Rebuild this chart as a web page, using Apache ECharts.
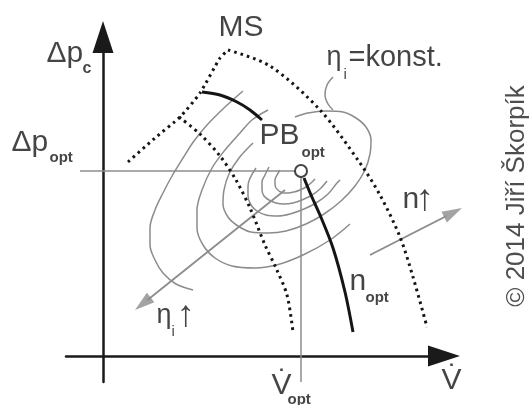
<!DOCTYPE html>
<html>
<head>
<meta charset="utf-8">
<script src="https://cdn.jsdelivr.net/npm/echarts@6/dist/echarts.min.js"></script>
<style>
  html, body { margin: 0; padding: 0; background: #ffffff; }
  #chart { width: 532px; height: 405px; }
</style>
</head>
<body>
<div id="chart"></div>
<script>
// Compressor map: pressure rise Δp_c against volume flow V̇.
// Diagram units: 1 unit = 1 px, origin at the crossing of the two axes.

// surge line (MS) and two constant-speed lines (dotted)
const surgeLine = [[25,194],[52,218],[77,239],[97,263],[117,298],[125,306]];
const speedLineHigh = [[125,306],[167,290],[217,246],[257,193],[277,161],[297,119],[310,79],[324,29]];
const speedLineLow = [[76,239],[97,222],[117,200],[133,176],[147,148],[162,111],[173,88],[184,61],[190,24]];

// optimal speed line n_opt and the pressure arc ending at PB_opt
const optSpeedCurve = [[201,178],[208,161],[217,141],[230,108],[242,64],[250,24]];
const pressureArc = [[99,264],[117,261],[134,254],[147,246],[159,236]];

// iso-efficiency contours η_i = konst., outermost first
const effContour1 = [[140,265],[122,249],[104,231],[91,215],[80,198],[69,180],[60,163],[52,146],[47,128],[47,111],[52,96],[60,83],[73,72],[90,66]];
const effContour2 = [[165,246],[149,236],[137,223],[122,206],[109,188],[99,166],[94,146],[94,128],[100,111],[112,98],[129,90],[152,88],[177,92],[202,102],[227,116],[247,132]];
const effContour3 = [[192,239],[205,243],[223,245],[240,244],[253,238],[263,229],[268,216],[267,202],[262,186],[252,170],[238,155],[221,142],[203,132],[183,125],[165,123],[148,124],[135,130],[125,139],[120,152],[121,166],[126,182],[136,198],[150,213]];
const effContour4 = [[153,188],[145,170],[145,160],[148,151],[154,145],[163,141],[175,140],[187,142],[201,147],[213,153],[225,162],[234,173],[237,176]];
const effContour5 = [[166,189],[162,181],[159,174],[159,166],[161,160],[166,156],[173,153],[181,152],[190,153],[199,156],[209,161],[217,167],[224,175]];
const effContour6 = [[177,186],[174,181],[172,176],[172,172],[173,168],[176,165],[180,163],[185,163],[191,164],[197,166],[203,169],[208,173],[212,177]];
const konstLeader = [[230,279],[224,271],[222,261],[225,252],[230,246]];

// best-efficiency point PB_opt and its reference lines
const optPoint = [198,185];
const optPressureLine = [[-23,185],[192,185]];
const optFlowLine = [[198,179],[198,-26]];

// direction arrows: η_i increasing, n increasing
const etaArrow = [[182,166],[32,46]];
const speedArrow = [[267,101],[359,148]];

// text annotations: [text, x, y, style]
const annotations = [
  ['MS', 116, 327.5, 'big'],
  ['Δp', -56, 302, 'big'], ['c', -20, 287, 'subC'],
  ['Δp', -91, 213, 'big'], ['opt', -53, 198, 'sub'],
  ['PB', 157, 219.5, 'big'], ['opt', 199, 203, 'sub'],
  ['η', 224, 297.5, 'mid'], ['i', 241, 281, 'subI'], ['=konst.', 246, 297.5, 'konst'],
  ['n', 300, 156, 'big'], ['↑', 313, 156, 'arrow'],
  ['η', 54, 40, 'mid'], ['i', 69, 24, 'subI'], ['↑', 74, 40, 'arrow'],
  ['n', 247, 74, 'big'], ['opt', 263, 58, 'sub'],
  ['V\u0307', 339, -25, 'big'],
  ['V\u0307', 169, -30, 'big'], ['opt', 185, -44, 'sub']
];
const copyright = ['© 2014 Jiří Škorpík', 414, 160];

const FONT = "'Liberation Sans', Arial, sans-serif";
const textStyles = {
  big:   { fontSize: 30, fontWeight: 'normal' },
  mid:   { fontSize: 27, fontWeight: 'normal' },
  konst: { fontSize: 29, fontWeight: 'normal' },
  arrow: { fontSize: 37, fontWeight: 'normal' },
  sub:   { fontSize: 15, fontWeight: 'bold' },
  subC:  { fontSize: 16, fontWeight: 'bold' },
  subI:  { fontSize: 15, fontWeight: 'normal' }
};

const GRAY = '#8c8c8c';
const INK = '#151515';
const DOTS = [2.6, 4];

function curve(data, color, width, dash, z, smooth) {
  return {
    type: 'line', data: data, smooth: smooth === undefined ? 0.35 : smooth,
    symbol: 'none', clip: false, silent: true, z: z,
    lineStyle: { color: color, width: width, type: dash || 'solid', cap: 'butt' }
  };
}

// arrow shaft ends at the base of its head; the head is a rotated triangle
const HEAD_LEN = 20, HEAD_W = 12;
function arrowShaft(seg) {
  const [p0, p1] = seg;
  const dx = p1[0] - p0[0], dy = p1[1] - p0[1], d = Math.hypot(dx, dy);
  return [p0, [p1[0] - dx / d * HEAD_LEN * 0.8, p1[1] - dy / d * HEAD_LEN * 0.8]];
}
function arrowHead(seg) {
  const [p0, p1] = seg;
  const dx = p1[0] - p0[0], dy = p1[1] - p0[1], d = Math.hypot(dx, dy);
  return {
    value: [p1[0] - dx / d * HEAD_LEN / 2, p1[1] - dy / d * HEAD_LEN / 2],
    symbolRotate: Math.atan2(dy, dx) * 180 / Math.PI - 90
  };
}

const labelItems = annotations.map(function (a) {
  const st = textStyles[a[3]];
  return {
    value: [a[1], a[2]],
    label: {
      show: true, formatter: a[0], position: [0, 0], align: 'left', verticalAlign: 'middle',
      fontFamily: st.fontFamily || FONT, fontSize: st.fontSize, fontWeight: st.fontWeight, color: INK
    }
  };
});
labelItems.push({
  value: [copyright[1], copyright[2]],
  label: {
    show: true, formatter: copyright[0], position: 'inside', rotate: 90,
    align: 'center', verticalAlign: 'middle',
    fontFamily: FONT, fontSize: 26, color: '#222222'
  }
});

const series = [
  curve(effContour1, GRAY, 1.5, 'solid', 1),
  curve(effContour2, GRAY, 1.5, 'solid', 1),
  curve(effContour3, GRAY, 1.5, 'solid', 1),
  curve(effContour4, GRAY, 1.5, 'solid', 1),
  curve(effContour5, GRAY, 1.5, 'solid', 1),
  curve(effContour6, GRAY, 1.5, 'solid', 1),
  curve(konstLeader, GRAY, 1.5, 'solid', 1),
  curve(optPressureLine, GRAY, 1.5, 'solid', 2, false),
  curve(optFlowLine, GRAY, 1.5, 'solid', 2, false),
  curve(arrowShaft(etaArrow), GRAY, 1.8, 'solid', 2, false),
  curve(arrowShaft(speedArrow), GRAY, 1.8, 'solid', 2, false),
  {
    type: 'scatter', clip: false, silent: true, z: 3,
    symbol: 'triangle', symbolSize: [HEAD_W, HEAD_LEN],
    itemStyle: { color: GRAY },
    data: [arrowHead(etaArrow), arrowHead(speedArrow)]
  },
  curve(surgeLine, INK, 3, DOTS, 4, 0.2),
  curve(speedLineHigh, INK, 3, DOTS, 4, 0.3),
  curve(speedLineLow, INK, 3, DOTS, 4, 0.3),
  curve(optSpeedCurve, INK, 3, 'solid', 5, 0.3),
  curve(pressureArc, INK, 3, 'solid', 5, 0.3),
  {
    type: 'scatter', clip: false, silent: true, z: 6,
    symbol: 'circle', symbolSize: 12,
    itemStyle: { color: '#ffffff', borderColor: INK, borderWidth: 2 },
    data: [optPoint]
  },
  {
    type: 'scatter', clip: false, silent: true, z: 7,
    symbol: 'circle', symbolSize: 1,
    itemStyle: { color: 'rgba(0,0,0,0)' },
    data: labelItems
  }
];

const hiddenAxisParts = {
  axisTick: { show: false }, axisLabel: { show: false }, splitLine: { show: false }
};
const axisLine = {
  onZero: true, symbol: ['none', 'triangle'], symbolSize: [21, 32],
  lineStyle: { color: '#1a1a1a', width: 2.5 }
};

const chart = echarts.init(document.getElementById('chart'), null, { renderer: 'canvas' });
chart.setOption({
  animation: false,
  backgroundColor: '#ffffff',
  grid: { left: 66, top: 37, width: 378, height: 345 },
  xAxis: Object.assign({ type: 'value', min: -37, max: 341, axisLine: axisLine }, hiddenAxisParts),
  yAxis: Object.assign({ type: 'value', min: -26, max: 319, axisLine: axisLine }, hiddenAxisParts),
  series: series
});
</script>
</body>
</html>
